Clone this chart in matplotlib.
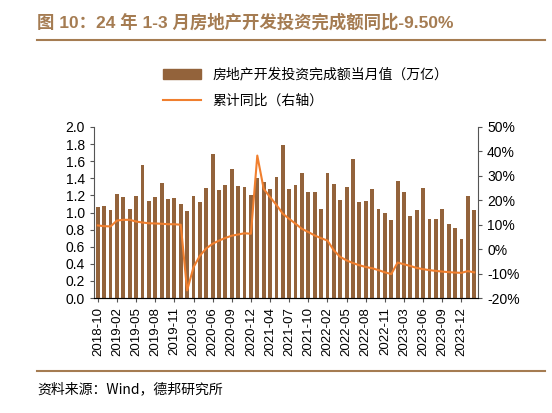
import matplotlib
matplotlib.use("Agg")
import matplotlib.pyplot as plt
from matplotlib.lines import Line2D
from matplotlib.patches import Patch

plt.rcParams['font.family'] = ['Liberation Sans', 'Noto Sans CJK SC', 'DejaVu Sans']

# months (January merged into February, so no -01 entries)
months = ["2018-10", "2018-11", "2018-12"]
for yr in range(2019, 2024):
    months += ["%d-%02d" % (yr, m) for m in range(2, 13)]
months += ["2024-02", "2024-03"]

monthly = [1.07, 1.08, 1.03, 1.22, 1.18, 1.04, 1.19, 1.56, 1.13, 1.18, 1.35, 1.16,
           1.17, 1.10, 1.02, 1.19, 1.12, 1.29, 1.69, 1.26, 1.32, 1.51, 1.31, 1.30,
           1.20, 1.40, 1.36, 1.27, 1.42, 1.79, 1.28, 1.32, 1.46, 1.24, 1.24, 1.04,
           1.46, 1.33, 1.15, 1.30, 1.62, 1.12, 1.14, 1.28, 1.04, 1.00, 0.91, 1.37,
           1.24, 0.96, 1.03, 1.29, 0.92, 0.92, 1.04, 0.87, 0.82, 0.69, 1.19, 1.03]
yoy = [9.7, 9.4, 9.3, 11.7, 12.0, 12.0, 11.3, 10.9, 10.6, 10.5, 10.4, 10.2,
       10.2, 10.0, -16.9, -7.4, -2.7, 0.3, 2.2, 3.5, 4.6, 5.5, 6.0, 6.5,
       6.3, 38.3, 24.7, 21.3, 18.1, 14.5, 12.4, 10.4, 8.3, 7.0, 5.6, 4.5,
       3.5, -0.5, -3.2, -4.6, -5.7, -6.6, -7.3, -7.8, -8.6, -9.5, -10.2, -5.5,
       -6.2, -6.9, -7.7, -8.2, -8.6, -8.9, -9.2, -9.4, -9.6, -9.7, -9.0, -9.5]

BAR = "#93633b"
LINE = "#f07f2e"
TITLE = "#a57c52"

fig = plt.figure(figsize=(5.52, 4.13), dpi=100)
ax = fig.add_axes([94 / 552, 1 - 298 / 413, (478 - 94) / 552, (298 - 127) / 413])
x = range(len(months))
ax.bar(x, monthly, width=0.6, color=BAR)
ax.set_ylim(0, 2.0)
ax.set_yticks([i / 5 for i in range(11)])
ax.set_yticklabels(["%.1f" % (i / 5) for i in range(11)], fontsize=10)
ax.set_xlim(-0.6, len(months) - 0.4)
ax.set_xticks(list(x)[::3])
ax.set_xticklabels(months[::3], rotation=90, fontsize=9.5)

ax2 = ax.twinx()
ax2.plot(x, yoy, color=LINE, lw=1.5)
ax2.set_ylim(-20, 50)
ax2.set_yticks(range(-20, 51, 10))
ax2.set_yticklabels(["%d%%" % v for v in range(-20, 51, 10)], fontsize=10)

for a in (ax, ax2):
    a.spines["top"].set_visible(False)
    a.tick_params(length=3, color="#555555")
ax.spines["right"].set_visible(False)
ax2.spines["left"].set_visible(False)
for s in ("left", "bottom"):
    ax.spines[s].set_color("#555555")
ax2.spines["right"].set_color("#555555")

handles = [Patch(color=BAR), Line2D([], [], color=LINE, lw=1.5)]
fig.legend(handles, ["房地产开发投资完成额当月值（万亿）", "累计同比（右轴）"],
           loc="upper left", bbox_to_anchor=(150 / 552, 1 - 55 / 413), frameon=False,
           handlelength=2.8, labelspacing=0.9,
           prop={"family": ["Noto Sans CJK SC"], "size": 10})

fig.text(37 / 552, 1 - 22 / 413, "图 10：24 年 1-3 月房地产开发投资完成额同比-9.50%",
         color=TITLE, fontsize=12.5, fontweight="bold", va="center",
         family=["Liberation Sans", "Noto Sans CJK SC"])
fig.add_artist(Line2D([37 / 552, 545 / 552], [1 - 40 / 413] * 2, color=TITLE, lw=1.5))
fig.add_artist(Line2D([37 / 552, 545 / 552], [1 - 371 / 413] * 2, color=TITLE, lw=1.5))
fig.text(37 / 552, 1 - 389 / 413, "资料来源：Wind，德邦研究所", fontsize=10, va="center",
         family=["Noto Sans CJK SC", "DejaVu Sans"])

fig.savefig("out.png", dpi=100)
